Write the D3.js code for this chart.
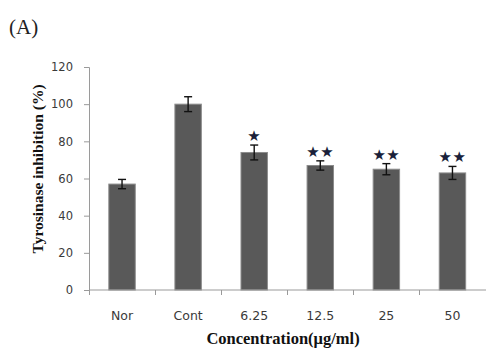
<!DOCTYPE html>
<html>
<head>
<meta charset="utf-8">
<script src="https://cdn.jsdelivr.net/npm/d3@7"></script>
<style>
  html, body { margin: 0; padding: 0; background: #fff; }
  svg { display: block; }
</style>
</head>
<body>
<svg id="chart" width="486" height="350"></svg>
<script>
// Tyrosinase inhibition by concentration, mean ± error
const categories = ["Nor", "Cont", "6.25", "12.5", "25", "50"];
const values = [57, 100, 74, 67, 65, 63];
const errors = [2.5, 4, 4, 2.5, 3, 3.5];
const significance = ["", "", "*", "**", "**", "**"];
const yTicks = [0, 20, 40, 60, 80, 100, 120];

const svg = d3.select("#chart");
const margin = { left: 89, top: 67 };
const W = 486;
const tickFont = "'DejaVu Sans', Verdana, sans-serif";
const titleFont = "'Liberation Serif', 'Times New Roman', serif";

const x = d3.scaleBand()
  .domain(categories)
  .range([margin.left, W - 0.5])
  .paddingInner(0.6)
  .paddingOuter(0.3);

const y = d3.scaleLinear()
  .domain([0, 120])
  .range([290, margin.top]);

// Y axis
const yAxis = svg.append("g")
  .attr("transform", `translate(${margin.left},0)`)
  .call(d3.axisLeft(y).tickValues(yTicks).tickSize(5).tickPadding(11));
yAxis.select(".domain").attr("stroke", "#9a9a9a");
yAxis.selectAll(".tick line").attr("stroke", "#9a9a9a");
yAxis.selectAll(".tick text")
  .attr("font-family", tickFont)
  .attr("font-size", 11.5)
  .attr("fill", "#3a3a3a");

// Bars
svg.append("g").selectAll("rect")
  .data(values)
  .join("rect")
  .attr("x", (d, i) => x(categories[i]))
  .attr("y", d => y(d))
  .attr("width", x.bandwidth())
  .attr("height", d => y(0) - y(d))
  .attr("fill", "#595959")
  .attr("stroke", "#8c8c8c")
  .attr("stroke-width", 1);

// X axis with ticks at category boundaries
const xg = svg.append("g").attr("transform", `translate(0,${y(0)})`);
xg.append("line")
  .attr("x1", margin.left).attr("x2", W)
  .attr("y1", 0).attr("y2", 0)
  .attr("stroke", "#9a9a9a");
const step = x.step();
const boundaries = categories.map(c => x(c) + x.bandwidth() / 2 - step / 2);
xg.selectAll("line.tick")
  .data(boundaries)
  .join("line")
  .attr("class", "tick")
  .attr("x1", d => Math.round(d) + 0.5).attr("x2", d => Math.round(d) + 0.5)
  .attr("y1", 0).attr("y2", 5)
  .attr("stroke", "#9a9a9a");
xg.selectAll("text")
  .data(categories)
  .join("text")
  .attr("x", d => x(d) + x.bandwidth() / 2)
  .attr("y", 30)
  .attr("text-anchor", "middle")
  .attr("font-family", tickFont)
  .attr("font-size", 12.5)
  .attr("fill", "#3a3a3a")
  .text(d => d);

// Error bars
const eb = svg.append("g").attr("stroke", "#111").attr("stroke-width", 1.4);
values.forEach((v, i) => {
  const cx = x(categories[i]) + x.bandwidth() / 2;
  const hi = y(v + errors[i]), lo = y(v - errors[i]);
  eb.append("line").attr("x1", cx).attr("x2", cx).attr("y1", hi).attr("y2", lo);
  eb.append("line").attr("x1", cx - 4).attr("x2", cx + 4).attr("y1", hi).attr("y2", hi);
  eb.append("line").attr("x1", cx - 4).attr("x2", cx + 4).attr("y1", lo).attr("y2", lo);
});

// Significance marks
svg.append("g").selectAll("text")
  .data(significance)
  .join("text")
  .attr("x", (d, i) => x(categories[i]) + x.bandwidth() / 2)
  .attr("y", (d, i) => y(values[i] + errors[i]) - 4)
  .attr("text-anchor", "middle")
  .attr("font-family", "'DejaVu Sans', sans-serif")
  .attr("font-size", 15)
  .attr("letter-spacing", 0.5)
  .attr("fill", "#1a1f3a")
  .text(d => d.replace(/\*/g, "★"));

// Axis titles
svg.append("text")
  .attr("transform", `translate(43,${(83 + 255) / 2}) rotate(-90)`)
  .attr("text-anchor", "middle")
  .attr("font-family", titleFont)
  .attr("font-weight", "bold")
  .attr("font-size", 15.5)
  .attr("fill", "#111")
  .text("Tyrosinase inhibition (%)");

svg.append("text")
  .attr("x", 283)
  .attr("y", 344)
  .attr("text-anchor", "middle")
  .attr("font-family", titleFont)
  .attr("font-weight", "bold")
  .attr("font-size", 16.5)
  .attr("fill", "#111")
  .text("Concentration(μg/ml)");

// Panel label
svg.append("text")
  .attr("x", 9)
  .attr("y", 34)
  .attr("font-family", titleFont)
  .attr("font-size", 21)
  .attr("fill", "#222")
  .text("(A)");
</script>
</body>
</html>
